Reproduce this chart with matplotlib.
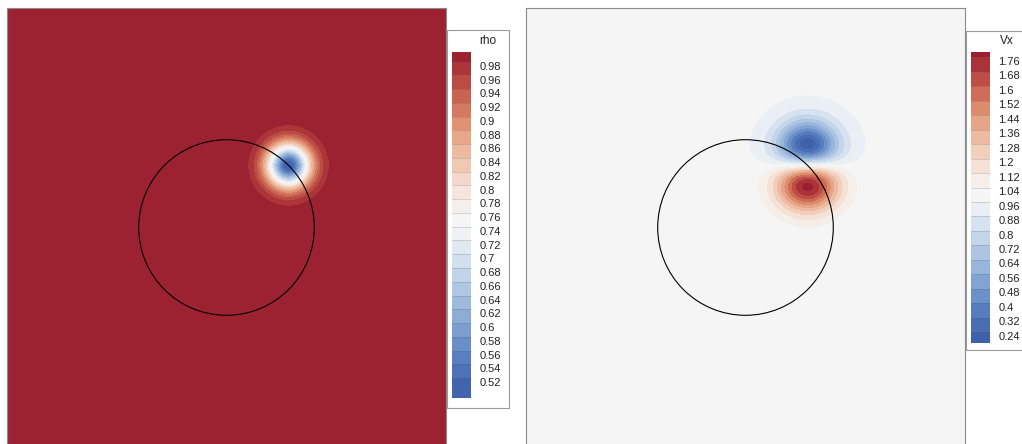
import numpy as np
import matplotlib.pyplot as plt
from matplotlib.colors import LinearSegmentedColormap
from matplotlib.patches import Rectangle, Circle

plt.rcParams['font.family'] = ['Liberation Sans', 'DejaVu Sans']

# domain, reference circle and vortex position
domain = [0.0, 10.0]
circle_center = (5.0, 5.0)
circle_radius = 2.0
vortex_center = (6.414, 6.414)
core_radius = 0.49

# field extremes
rho_min, rho_max = 0.497, 1.0
vx_inf, vx_amp = 1.0, 0.8

# colorbar ticks
rho_ticks = [0.98, 0.96, 0.94, 0.92, 0.9, 0.88, 0.86, 0.84, 0.82, 0.8, 0.78, 0.76,
             0.74, 0.72, 0.7, 0.68, 0.66, 0.64, 0.62, 0.6, 0.58, 0.56, 0.54, 0.52]
vx_ticks = [1.76, 1.68, 1.6, 1.52, 1.44, 1.36, 1.28, 1.2, 1.12, 1.04,
            0.96, 0.88, 0.8, 0.72, 0.64, 0.56, 0.48, 0.4, 0.32, 0.24]

# band edges sit a little above each tick
rho_levels = [rho_min] + [round(t + 0.006, 4) for t in sorted(rho_ticks)[:-1]] + [0.986, rho_max]
rho_levels = sorted(set(rho_levels))
vx_levels = [0.2] + [round(t + 0.02, 4) for t in sorted(vx_ticks)] + [1.81]
vx_levels = sorted(set(vx_levels))

cmap_stops = [(0.00, '#3b5ba8'), (0.12, '#5a80c0'), (0.25, '#93b3da'), (0.38, '#cbdbec'),
              (0.46, '#eaeff5'), (0.49, '#f5f5f5'), (0.53, '#f5f5f5'), (0.60, '#f6e4da'),
              (0.70, '#efc0a6'), (0.80, '#df9070'), (0.90, '#c25348'), (1.00, '#981b2e')]
cmap = LinearSegmentedColormap.from_list('bluered', cmap_stops)

W, H = 1022, 444


def px_box(x0, y0, x1, y1):
    return [x0 / W, 1 - y1 / H, (x1 - x0) / W, (y1 - y0) / H]


x = np.linspace(domain[0], domain[1], 800)
X, Y = np.meshgrid(x, x)
dx = (X - vortex_center[0]) / core_radius
dy = (Y - vortex_center[1]) / core_radius
r2 = dx ** 2 + dy ** 2
rho = rho_max - (rho_max - rho_min) * np.exp(-r2)
vx = vx_inf - vx_amp * dy * np.exp((1 - r2) / 2)

fig = plt.figure(figsize=(W / 100, H / 100), dpi=100)

panels = [
    (px_box(7, 8, 446, 447), rho, rho_levels, rho_ticks, 'rho',
     (447, 30, 509, 408), (452, 52, 471, 398)),
    (px_box(526, 8, 965, 447), vx, vx_levels, vx_ticks, 'Vx',
     (966, 31, 1030, 350), (971, 52, 990, 343)),
]

for rect, field, levels, ticks, name, box, strip in panels:
    ax = fig.add_axes(rect)
    cs = ax.contourf(X, Y, field, levels=levels, cmap=cmap,
                     vmin=levels[0], vmax=levels[-1])
    ax.add_patch(Circle(circle_center, circle_radius, fill=False,
                        edgecolor='black', lw=0.8))
    ax.set_xlim(domain)
    ax.set_ylim(domain)
    ax.set_xticks([])
    ax.set_yticks([])
    for sp in ax.spines.values():
        sp.set_color('#8a8a8a')
        sp.set_linewidth(0.8)

    # white legend box behind the colorbar
    bx0, by0, bx1, by1 = box
    fig.add_artist(Rectangle((bx0 / W, 1 - by1 / H), (bx1 - bx0) / W, (by1 - by0) / H,
                             transform=fig.transFigure, facecolor='white',
                             edgecolor='#9a9a9a', lw=0.8, zorder=0.5))
    cax = fig.add_axes(px_box(*strip))
    cax.set_zorder(1)
    cb = fig.colorbar(cs, cax=cax, spacing='proportional', drawedges=True)
    cb.outline.set_linewidth(0)
    cb.dividers.set_color('#5a5a5a')
    cb.dividers.set_alpha(0.3)
    cb.dividers.set_linewidth(0.5)
    cb.set_ticks(ticks)
    cb.set_ticklabels(['%g' % t for t in ticks])
    cax.tick_params(length=0, pad=6, labelsize=8, colors='#222222')
    cax.set_ylim(levels[0], levels[-1])
    fig.text((strip[2] + 17) / W, 1 - 41 / H, name, fontsize=8.5,
             ha='center', va='center', color='#222222', zorder=2)

fig.savefig('out.png', dpi=100)
